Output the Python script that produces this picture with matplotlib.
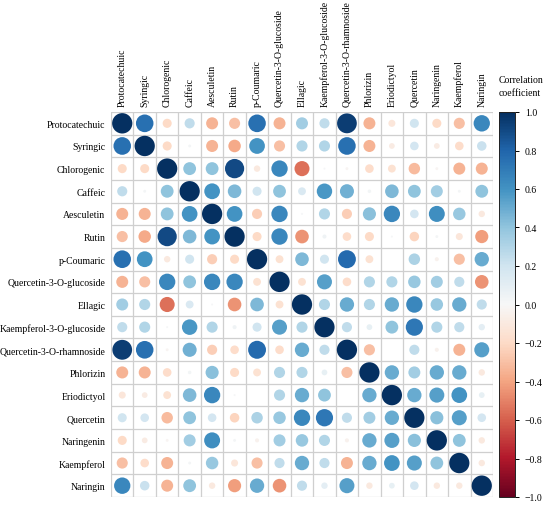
import numpy as np
import matplotlib.pyplot as plt
from matplotlib.patches import Circle
from matplotlib.colors import Normalize
from matplotlib.cm import ScalarMappable

compounds = ['Protocatechuic', 'Syringic', 'Chlorogenic', 'Caffeic', 'Aesculetin',
             'Rutin', 'p-Coumaric', 'Quercetin-3-O-glucoside', 'Ellagic',
             'Kaempferol-3-O-glucoside', 'Quercetin-3-O-rhamnoside', 'Phlorizin',
             'Eriodictyol', 'Quercetin', 'Naringenin', 'Kaempferol', 'Naringin']

# upper triangle of the correlation matrix, row i holds r(i, j) for j > i
upper = [
    [0.75, -0.20, 0.25, -0.35, -0.30, 0.75, -0.35, 0.35, 0.25, 0.95, -0.35, -0.12, 0.20, -0.20, -0.30, 0.65],
    [-0.20, 0.02, -0.35, -0.38, 0.60, -0.30, 0.30, 0.30, 0.75, -0.35, -0.08, 0.18, -0.08, -0.18, 0.22],
    [0.40, 0.40, 0.90, -0.10, 0.65, -0.55, 0.01, -0.02, -0.18, -0.15, -0.32, -0.02, -0.35, -0.35],
    [0.60, 0.45, 0.20, 0.40, 0.15, 0.58, 0.48, 0.03, 0.45, 0.40, 0.35, 0.02, 0.40],
    [0.60, -0.25, 0.65, 0.01, 0.30, -0.25, 0.42, 0.65, 0.18, 0.62, 0.38, -0.10],
    [-0.20, 0.65, -0.45, 0.04, -0.18, -0.20, 0.01, -0.22, 0.02, -0.12, -0.42],
    [-0.15, 0.45, 0.20, 0.78, -0.15, 0.00, 0.32, -0.04, -0.30, 0.50],
    [-0.15, 0.55, -0.18, 0.30, 0.30, 0.38, 0.35, 0.25, -0.45],
    [0.30, 0.50, 0.30, 0.50, 0.65, 0.38, 0.50, 0.25],
    [0.25, 0.08, 0.40, 0.72, 0.30, 0.25, 0.10],
    [-0.30, 0.00, 0.25, -0.04, -0.35, 0.55],
    [0.50, 0.35, 0.50, 0.50, -0.10],
    [0.50, 0.55, 0.60, 0.08],
    [0.42, 0.55, 0.18],
    [0.40, -0.10],
    [-0.10],
]

n = len(compounds)
corr = np.eye(n)
for i, row in enumerate(upper):
    for k, v in enumerate(row):
        j = i + 1 + k
        corr[i, j] = v
        corr[j, i] = v

plt.rcParams['font.family'] = ['Liberation Serif', 'DejaVu Serif']

fig = plt.figure(figsize=(5.5, 5.06), dpi=100)
W, H = 550, 506
ax = fig.add_axes([111 / W, 1 - 498 / H, 382 / W, 385 / H])

cmap = plt.get_cmap('RdBu')
norm = Normalize(-1, 1)

for i in range(n):
    for j in range(n):
        r = corr[i, j]
        rad = 0.45 * np.sqrt(abs(r))
        if rad < 0.02:
            continue
        ax.add_patch(Circle((j + 0.5, i + 0.5), rad, facecolor=cmap(norm(r)),
                            edgecolor='none'))

for k in range(n + 1):
    ax.axhline(k, color='#cfcfcf', lw=0.9, zorder=0)
    ax.axvline(k, color='#cfcfcf', lw=0.9, zorder=0)

ax.set_xlim(0, n)
ax.set_ylim(n, 0)
for s in ax.spines.values():
    s.set_visible(False)
ax.set_xticks(np.arange(n) + 0.5)
ax.set_yticks(np.arange(n) + 0.5)
ax.set_xticklabels(compounds, rotation=90, fontsize=7)
ax.set_yticklabels(compounds, fontsize=7)
ax.xaxis.tick_top()
ax.tick_params(length=0, pad=4)

cax = fig.add_axes([499 / W, 1 - 498 / H, 16 / W, 385 / H])
cb = fig.colorbar(ScalarMappable(norm=norm, cmap=cmap), cax=cax)
cb.set_ticks(np.linspace(-1, 1, 11))
cb.set_ticklabels(['−1.0', '−0.8', '−0.6', '−0.4', '−0.2', '0.0', '0.2', '0.4', '0.6', '0.8', '1.0'])
cb.ax.tick_params(labelsize=7, length=3, width=0.7, pad=4)
cb.outline.set_linewidth(0.7)
cb.outline.set_edgecolor('#222222')
fig.text(499 / W, 1 - 87 / H, 'Correlation\ncoefficient', fontsize=7,
         ha='left', va='center', linespacing=1.45)

fig.savefig('out.png', dpi=100)
